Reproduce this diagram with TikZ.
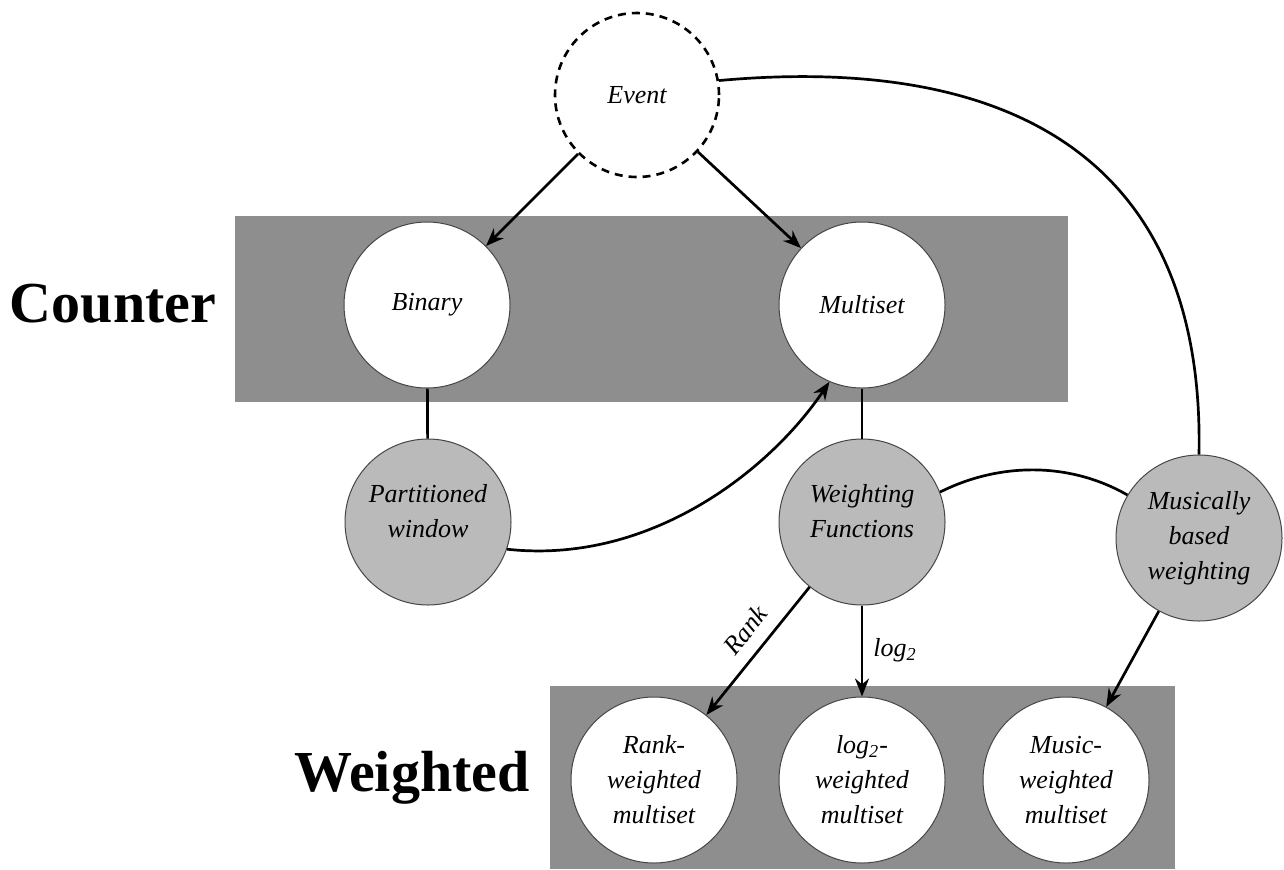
\documentclass[tikz,border=0pt]{standalone}
\usepackage{fontspec}
\setmainfont{Liberation Serif}
\usetikzlibrary{arrows.meta}
\definecolor{boxgray}{RGB}{142,142,142}
\definecolor{midgray}{RGB}{186,186,186}
\definecolor{rimgray}{RGB}{70,70,70}
\begin{document}
\begin{tikzpicture}[x=0.5pt,y=-0.5pt,
  every node/.style={font=\fontsize{13}{17.5}\selectfont\itshape},
  wnode/.style={circle, draw=rimgray, line width=0.5pt, fill=white, minimum size=83pt, inner sep=0pt, align=center},
  gnode/.style={wnode, fill=midgray},
  evnode/.style={circle, draw=black, line width=1.3pt, dash pattern=on 4pt off 3pt, fill=white, minimum size=82pt, inner sep=0pt, align=center},
  conn/.style={line width=1.35pt, draw=black},
  arr/.style={conn, -{Stealth[length=9pt,width=7pt]}},
  grouplabel/.style={font=\fontsize{29}{34}\selectfont\bfseries},
  grpbox/.style={fill=boxgray, draw=none}
]
\useasboundingbox (0,0) rectangle (1284,869);
\fill[white] (0,0) rectangle (1284,869);
% group boxes
\path[grpbox] (235,216) rectangle (1068,402);
\path[grpbox] (550,686) rectangle (1175,869);
% group labels
\node[grouplabel] (counterlbl) at (113,304) {Counter};
\node[grouplabel] (weightedlbl) at (412,778) {Weighted};
% nodes
\node[evnode] (ev) at (637,95) {Event};
\node[wnode] (bin) at (427,305) {Binary};
\node[wnode] (ms) at (862,305) {Multiset};
\node[gnode] (pw) at (428,522) {Partitioned\\window\\[-6pt]\mbox{}};
\node[gnode] (wf) at (862,522) {Weighting\\Functions\\[-6pt]\mbox{}};
\node[gnode] (mbw) at (1199,538) {Musically\\based\\weighting};
\node[wnode] (rw) at (654,780) {Rank-\\weighted\\multiset};
\node[wnode] (lw) at (862,780) {log\textsubscript{2}-\\weighted\\multiset};
\node[wnode] (mw) at (1066,780) {Music-\\weighted\\multiset};
% connectors
\draw[arr] (ev) -- (bin);
\draw[arr] (ev) -- (ms);
\draw[conn] (ev.10) .. controls (1000,55) and (1205,150) .. (mbw.north);
\draw[conn] (bin) -- (pw);
\draw[arr] (pw.-19) .. controls (650,565) and (770,470) .. (ms.-113);
\draw[conn] (ms) -- (wf);
\draw[conn] (wf.21) .. controls (1000,462) and (1070,462) .. (mbw.149);
\draw[arr] (wf) -- (rw);
\draw[arr] (wf) -- (lw);
\draw[arr] (mbw) -- (mw);
% edge labels
\node[rotate=51] (ranklbl) at (745,630) {Rank};
\node (loglbl) at (895,650) {log\textsubscript{2}};
\end{tikzpicture}
\end{document}
